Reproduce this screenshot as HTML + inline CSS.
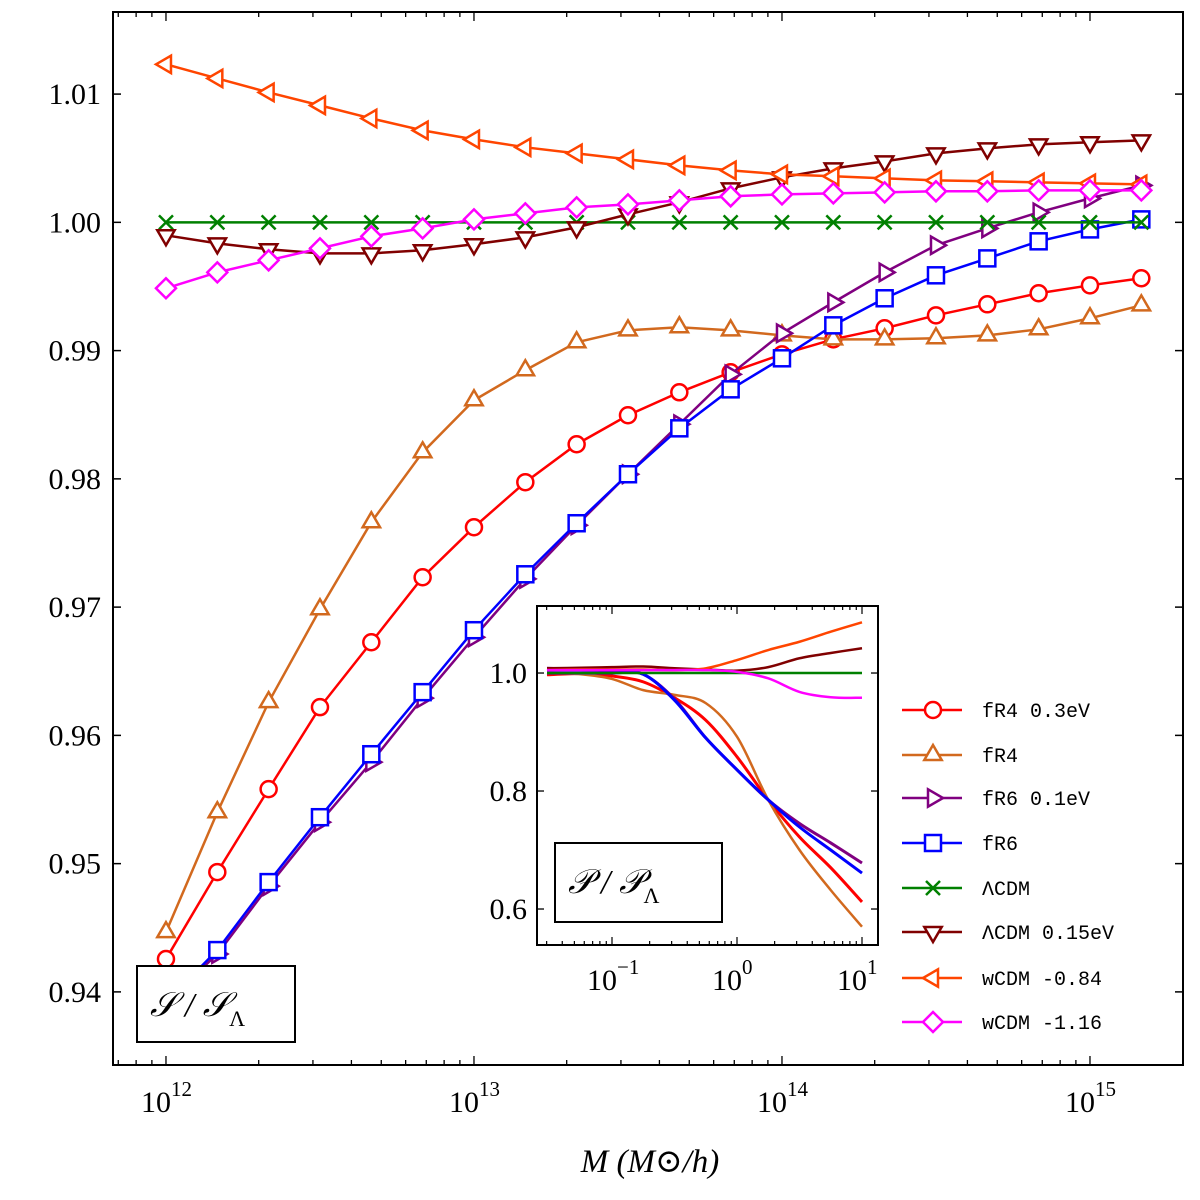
<!DOCTYPE html>
<html><head><meta charset="utf-8"><style>
html,body{margin:0;padding:0;background:#fff;width:1200px;height:1200px;overflow:hidden}
svg{display:block}
text{font-family:"Liberation Serif","DejaVu Serif",serif}
.mono{font-family:"Liberation Mono","DejaVu Sans Mono",monospace}
</style></head><body>
<svg id="chart" width="1200" height="1200" viewBox="0 0 1200 1200" xmlns="http://www.w3.org/2000/svg"></svg>
<script>
// ---- main chart data ----
const logMass = [12,12.1667,12.3333,12.5,12.6667,12.8333,13,13.1667,13.3333,13.5,13.6667,13.8333,14,14.1667,14.3333,14.5,14.6667,14.8333,15,15.1667];
const fR4_03 = [0.94256,0.94934,0.95581,0.9622,0.96726,0.97233,0.97623,0.97974,0.9827,0.98496,0.98675,0.98831,0.98971,0.99088,0.99174,0.99275,0.99361,0.99447,0.99509,0.99564];
const fR4 = [0.94466,0.95401,0.96259,0.96983,0.97662,0.98207,0.98613,0.98847,0.99065,0.99158,0.99182,0.99158,0.99119,0.99088,0.99088,0.99096,0.99119,0.99166,0.99252,0.99353];
const fR6_01 = [0.9392,0.94295,0.94825,0.95323,0.95791,0.9629,0.96765,0.9722,0.97638,0.98036,0.98426,0.98815,0.99135,0.99376,0.9961,0.99821,0.99953,1.00078,1.00187,1.00288];
const fR6 = [0.9392,0.94326,0.94856,0.95362,0.95853,0.96337,0.9682,0.97256,0.97654,0.98036,0.98394,0.98698,0.9894,0.99197,0.99408,0.99587,0.99719,0.99852,0.99945,1.00023];
const lcdm = [1,1,1,1,1,1,1,1,1,1,1,1,1,1,1,1,1,1,1,1];
const lcdm015 = [0.99899,0.99836,0.9979,0.99758,0.99758,0.99782,0.99829,0.99883,0.99961,1.00062,1.00156,1.00265,1.00351,1.00421,1.00475,1.00538,1.00577,1.00608,1.00624,1.00639];
const wcdm084 = [1.01232,1.01122,1.01013,1.00912,1.0081,1.00717,1.00647,1.00585,1.00538,1.00491,1.00444,1.00405,1.00374,1.00359,1.00343,1.00327,1.0032,1.00312,1.00304,1.00296];
const wcdm116 = [0.99486,0.9961,0.99704,0.99797,0.99891,0.99953,1.00023,1.0007,1.00117,1.0014,1.00171,1.00203,1.00218,1.00226,1.00234,1.00242,1.00242,1.00249,1.00249,1.00249];
const yTicks = [0.94,0.95,0.96,0.97,0.98,0.99,1.00,1.01];
const yTickLabels = ["0.94","0.95","0.96","0.97","0.98","0.99","1.00","1.01"];
const xTicks = [12,13,14,15];
// ---- inset data ----
const logK = [-1.52,-1.25,-1,-0.75,-0.5,-0.25,0,0.25,0.5,0.75,1];
const pk_fR4_03 = [0.997,0.999,0.995,0.985,0.958,0.92,0.858,0.785,0.722,0.67,0.612];
const pk_fR4 = [1.0,0.998,0.99,0.971,0.963,0.949,0.892,0.785,0.70,0.632,0.57];
const pk_fR6_01 = [1.008,1.006,1.004,0.998,0.956,0.89,0.836,0.785,0.745,0.712,0.678];
const pk_fR6 = [1.0,1.0,1.0,0.998,0.954,0.89,0.836,0.785,0.739,0.70,0.661];
const pk_lcdm = [1,1,1,1,1,1,1,1,1,1,1];
const pk_lcdm015 = [1.008,1.009,1.01,1.011,1.008,1.006,1.004,1.01,1.025,1.034,1.042];
const pk_wcdm084 = [1.005,1.006,1.006,1.006,1.005,1.008,1.022,1.039,1.053,1.07,1.086];
const pk_wcdm116 = [1.005,1.005,1.005,1.005,1.005,1.005,1.002,0.991,0.968,0.959,0.958];
const inYTicks = [0.6,0.8,1.0];
const inYTickLabels = ["0.6","0.8","1.0"];
const inXTicks = [-1,0,1];

const NS="http://www.w3.org/2000/svg";
const svg=document.getElementById('chart');
function mk(tag,attrs,parent){const e=document.createElementNS(NS,tag);for(const k in attrs)e.setAttribute(k,attrs[k]);(parent||svg).appendChild(e);return e;}
function smooth(pts){let d=`M${pts[0][0]},${pts[0][1]}`;
 for(let i=0;i<pts.length-1;i++){const p0=pts[Math.max(0,i-1)],p1=pts[i],p2=pts[i+1],p3=pts[Math.min(pts.length-1,i+2)];
  d+=`C${p1[0]+(p2[0]-p0[0])/6},${p1[1]+(p2[1]-p0[1])/6} ${p2[0]-(p3[0]-p1[0])/6},${p2[1]-(p3[1]-p1[1])/6} ${p2[0]},${p2[1]}`;}
 return d;}

const PL=113,PR=1183,PT=12,PB=1065;
const xMin=11.828,xMax=15.302,yMin=0.9343,yMax=1.0164;
const X=v=>PL+(v-xMin)/(xMax-xMin)*(PR-PL);
const Y=v=>PB-(v-yMin)/(yMax-yMin)*(PB-PT);

const series=[
 {name:'fr4-0.3ev',label:'fR4 0.3eV',color:'#ff0000',m:'circle',d:fR4_03,p:pk_fR4_03},
 {name:'fr4',label:'fR4',color:'#d2691e',m:'tri-up',d:fR4,p:pk_fR4},
 {name:'fr6-0.1ev',label:'fR6 0.1eV',color:'#800080',m:'tri-right',d:fR6_01,p:pk_fR6_01},
 {name:'fr6',label:'fR6',color:'#0000ff',m:'square',d:fR6,p:pk_fR6},
 {name:'lcdm',label:'\u039BCDM',color:'#008000',m:'x',d:lcdm,p:pk_lcdm},
 {name:'lcdm-0.15ev',label:'\u039BCDM 0.15eV',color:'#800000',m:'tri-down',d:lcdm015,p:pk_lcdm015},
 {name:'wcdm-0.84',label:'wCDM -0.84',color:'#ff4500',m:'tri-left',d:wcdm084,p:pk_wcdm084},
 {name:'wcdm-1.16',label:'wCDM -1.16',color:'#ff00ff',m:'diamond',d:wcdm116,p:pk_wcdm116}
];
function marker(g,type,x,y,c){
 const s={fill:'#fff',stroke:c,'stroke-width':2.5};
 let e;
 if(type==='circle')e=mk('circle',Object.assign({cx:x,cy:y,r:8},s),g);
 else if(type==='square')e=mk('rect',Object.assign({x:x-8,y:y-8,width:16,height:16},s),g);
 else if(type==='diamond')e=mk('polygon',Object.assign({points:`${x},${y-10} ${x+10},${y} ${x},${y+10} ${x-10},${y}`},s),g);
 else if(type==='x'){e=mk('path',{d:`M${x-7},${y-7}L${x+7},${y+7}M${x-7},${y+7}L${x+7},${y-7}`,stroke:c,'stroke-width':2.5},g);}
 else{const r=10;let pts;
  if(type==='tri-up')pts=`${x},${y-r} ${x+r*0.87},${y+r*0.5} ${x-r*0.87},${y+r*0.5}`;
  if(type==='tri-down')pts=`${x},${y+r} ${x+r*0.87},${y-r*0.5} ${x-r*0.87},${y-r*0.5}`;
  if(type==='tri-right')pts=`${x+r},${y} ${x-r*0.5},${y+r*0.87} ${x-r*0.5},${y-r*0.87}`;
  if(type==='tri-left')pts=`${x-r},${y} ${x+r*0.5},${y+r*0.87} ${x+r*0.5},${y-r*0.87}`;
  e=mk('polygon',Object.assign({points:pts},s),g);}
 return e;
}
const cp=mk('clipPath',{id:'mainclip'});
mk('rect',{x:PL,y:PT,width:PR-PL,height:PB-PT},cp);

const axes=mk('g',{});


yTicks.forEach((v,i)=>{
 mk('line',{x1:PL,x2:PL+8,y1:Y(v),y2:Y(v),stroke:'#000','stroke-width':1.5},axes);
 mk('line',{x1:PR,x2:PR-8,y1:Y(v),y2:Y(v),stroke:'#000','stroke-width':1.5},axes);
 const t=mk('text',{x:PL-12,y:Y(v)+10,'text-anchor':'end','font-size':30},axes);
 t.textContent=yTickLabels[i];
 
 
});
for(let d=11;d<=15;d++)for(let m=1;m<=9;m++){
 const lv=d+Math.log10(m); if(lv<xMin||lv>xMax)continue;
 const L=m===1?9:5;
 mk('line',{x1:X(lv),x2:X(lv),y1:PB,y2:PB-L,stroke:'#000','stroke-width':1.3},axes);
 mk('line',{x1:X(lv),x2:X(lv),y1:PT,y2:PT+L,stroke:'#000','stroke-width':1.3},axes);
}
xTicks.forEach(v=>{
 const t=mk('text',{x:X(v)-10,y:1112,'text-anchor':'middle','font-size':30},axes);
 t.textContent='10';
 
 
 const s=mk('text',{x:X(v)+5,y:1096,'text-anchor':'start','font-size':21},axes);
 s.textContent=String(v);
});
const xl=mk('text',{x:650,y:1172,'text-anchor':'middle','font-size':33,'font-style':'italic'});
xl.textContent='M (M\u2299/h)';



series.forEach(s=>{
 const g=mk('g',{'clip-path':'url(#mainclip)'});
 
 
 mk('polyline',{points:logMass.map((l,i)=>X(l)+','+Y(s.d[i])).join(' '),fill:'none',stroke:s.color,'stroke-width':2.5},g);
 logMass.forEach((l,i)=>{const e=marker(g,s.m,X(l),Y(s.d[i]),s.color);
  
  });
});
const frame=mk('rect',{x:PL,y:PT,width:PR-PL,height:PB-PT,fill:'none',stroke:'#000','stroke-width':2});



const lb=mk('g',{});


mk('rect',{x:137,y:966,width:158,height:76,fill:'#fff',stroke:'#000','stroke-width':2},lb);
const lt=mk('text',{x:150,y:1016,'font-size':34,'font-style':'italic'},lb);
lt.innerHTML='\u{1D4AE} / \u{1D4AE}<tspan font-size="22" dy="10" font-style="normal">\u039B</tspan>';

const IL=537,IR=878,IT=606,IB=945;
const ixMin=-1.6,ixMax=1.128,iyMin=0.539,iyMax=1.1136;
const IX=v=>IL+(v-ixMin)/(ixMax-ixMin)*(IR-IL);
const IY=v=>IB-(v-iyMin)/(iyMax-iyMin)*(IB-IT);
const ins=mk('g',{});


mk('rect',{x:IL,y:IT,width:IR-IL,height:IB-IT,fill:'#fff',stroke:'none'},ins);
series.forEach(s=>{
 const p=mk('path',{d:smooth(logK.map((l,i)=>[IX(l),IY(s.p[i])])),fill:'none',stroke:s.color,'stroke-width':s.name.startsWith('fr')&&s.name!=='fr4'?3:2.5,'stroke-linejoin':'round'},ins);
 
 
});
mk('rect',{x:IL,y:IT,width:IR-IL,height:IB-IT,fill:'none',stroke:'#000','stroke-width':2},ins);
inYTicks.forEach((v,i)=>{
 mk('line',{x1:IL,x2:IL+7,y1:IY(v),y2:IY(v),stroke:'#000','stroke-width':1.3},ins);
 mk('line',{x1:IR,x2:IR-7,y1:IY(v),y2:IY(v),stroke:'#000','stroke-width':1.3},ins);
 const t=mk('text',{x:IL-10,y:IY(v)+10,'text-anchor':'end','font-size':30},ins);
 t.textContent=inYTickLabels[i];
});
for(let d=-2;d<=1;d++)for(let m=1;m<=9;m++){
 const lv=d+Math.log10(m); if(lv<ixMin||lv>ixMax)continue;
 const L=m===1?8:4;
 mk('line',{x1:IX(lv),x2:IX(lv),y1:IB,y2:IB-L,stroke:'#000','stroke-width':1.2},ins);
 mk('line',{x1:IX(lv),x2:IX(lv),y1:IT,y2:IT+L,stroke:'#000','stroke-width':1.2},ins);
}
inXTicks.forEach(v=>{
 const t=mk('text',{x:IX(v)-10,y:990,'text-anchor':'middle','font-size':30},ins);
 t.textContent='10';
 const s=mk('text',{x:IX(v)+5,y:974,'text-anchor':'start','font-size':21},ins);
 s.textContent=v<0?'\u2212'+Math.abs(v):String(v);
});
mk('rect',{x:555,y:843,width:167,height:79,fill:'#fff',stroke:'#000','stroke-width':2},ins);
const it=mk('text',{x:568,y:893,'font-size':34,'font-style':'italic'},ins);
it.innerHTML='\u{1D4AB} / \u{1D4AB}<tspan font-size="22" dy="10" font-style="normal">\u039B</tspan>';

const lg=mk('g',{});


const legY=[710,755,798,843,888,932,978,1022];
series.forEach((s,i)=>{
 const g=mk('g',{},lg);
 
 
 mk('line',{x1:902,x2:962,y1:legY[i],y2:legY[i],stroke:s.color,'stroke-width':2.5},g);
 marker(g,s.m,933,legY[i],s.color);
 const t=mk('text',{x:982,y:legY[i]+7,'font-size':20,class:'mono'},g);
 t.textContent=s.label;
});
</script>
</body></html>
